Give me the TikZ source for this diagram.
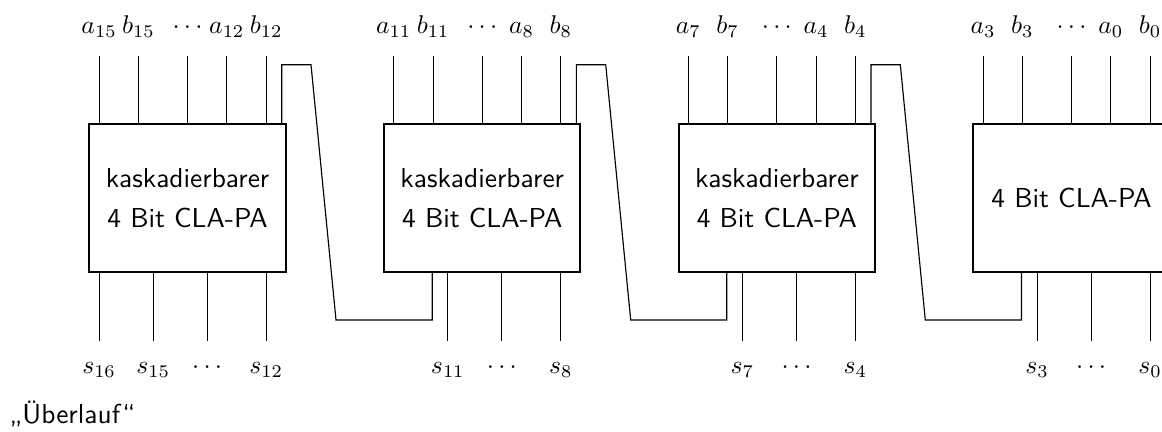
\documentclass[tikz,border=0pt]{standalone}
\usepackage{fontspec}
\newcommand{\boxfont}{\sffamily\fontsize{10.7}{12.8}\selectfont}
\begin{document}
\begin{tikzpicture}[x=0.39pt,y=-0.39pt,
  blk/.style={draw, line width=0.75pt, minimum width=76.6pt, minimum height=57.7pt,
              font=\boxfont, align=center, inner sep=0pt},
  wire/.style={line width=0.45pt},
  lbl/.style={anchor=base, inner sep=0pt}]
\useasboundingbox (0,0) rectangle (1162,432);

% boxes
\node[blk] (box1) at (187.55,198.3) {kaskadierbarer\\[2.8pt]4 Bit CLA-PA};
\node[blk] (box2) at (482.25,198.3) {kaskadierbarer\\[2.8pt]4 Bit CLA-PA};
\node[blk] (box3) at (776.85,198.3) {kaskadierbarer\\[2.8pt]4 Bit CLA-PA};
\node[blk] (box4) at (1071.55,198.3) {4 Bit CLA-PA};

% inputs
\foreach \i/\L/\la/\lb/\lc/\ld in {1/89.3/15/15/12/12, 2/384/11/11/8/8, 3/678.6/7/7/4/4, 4/973.3/3/3/0/0} {
  \foreach \k/\r/\t in {1/0.05/{a_{\la}}, 2/0.25/{b_{\lb}}, 3/0.5/{\cdots}, 4/0.7/{a_{\lc}}, 5/0.9/{b_{\ld}}} {
    \coordinate (in\i-\k) at (\L+196.5*\r,56);
    \node[lbl] (tl\i-\k) at (\L+196.5*\r,33.5) {$\t$};
    \draw[wire] (in\i-\k) -- (in\i-\k |- box\i.north);
  }
}

% outputs of box 1
\foreach \k/\r/\t in {1/0.05/{s_{16}}, 2/0.325/{s_{15}}, 3/0.6/{\cdots}, 4/0.9/{s_{12}}} {
  \coordinate (out1-\k) at (89.3+196.5*\r,340.7);
  \node[lbl] (bl1-\k) at (89.3+196.5*\r,373.5) {$\t$};
  \draw[wire] (out1-\k |- box1.south) -- (out1-\k);
}
% outputs of boxes 2-4
\foreach \i/\L/\sa/\sb in {2/384/11/8, 3/678.6/7/4, 4/973.3/3/0} {
  \foreach \k/\r/\t in {2/0.325/{s_{\sa}}, 3/0.6/{\cdots}, 4/0.9/{s_{\sb}}} {
    \coordinate (out\i-\k) at (\L+196.5*\r,340.7);
    \node[lbl] (bl\i-\k) at (\L+196.5*\r,373.5) {$\t$};
    \draw[wire] (out\i-\k |- box\i.south) -- (out\i-\k);
  }
}

% carry chain
\foreach \i/\j in {1/2, 2/3, 3/4} {
  \draw[wire] ([xshift=-1.95pt]box\i.north east) -- ++(0,-58.6) -- ++(29.3,0)
    -- ++(25,255.3) -| ([xshift=19.15pt]box\j.south west);
}

% overflow label
\node[inner sep=0pt, anchor=base west, font=\boxfont] (ovf) at (9,423) {„Überlauf“};
\end{tikzpicture}
\end{document}
